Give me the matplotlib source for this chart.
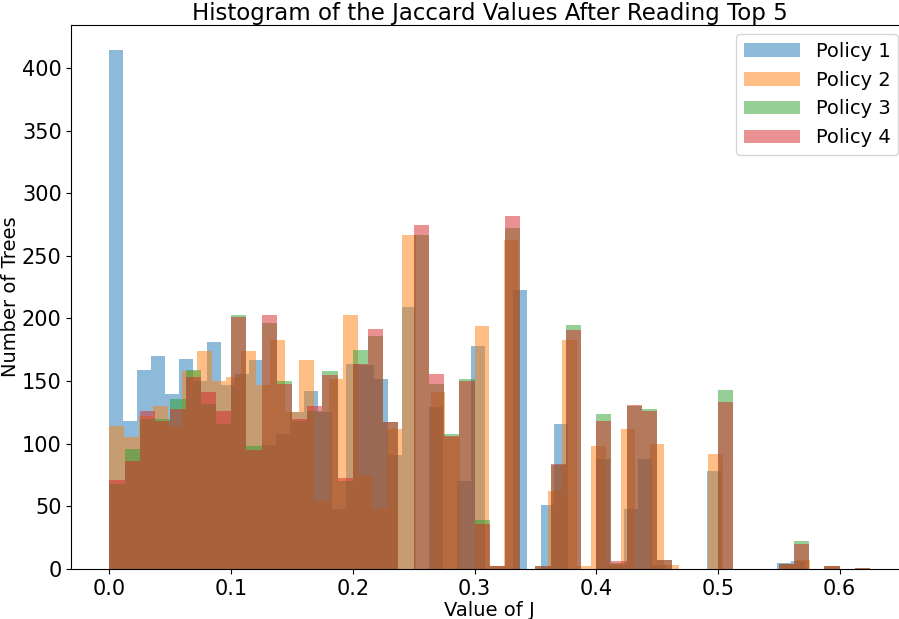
import numpy as np
import matplotlib.pyplot as plt

# each policy was binned on its own range, 50 bins from 0 to its largest J value
policies = ['Policy 1', 'Policy 2', 'Policy 3', 'Policy 4']
j_max = [4 / 7, 0.6, 0.625, 0.625]

# counts per bin
policy1 = [414, 118, 159, 170, 140, 168, 150, 181, 147, 156,
           167, 99, 108, 125, 142, 125, 48, 164, 163, 152,
           91, 209, 0, 129, 0, 70, 178, 0, 0, 223,
           0, 51, 116, 0, 0, 88, 3, 48, 88, 3,
           0, 0, 0, 78, 0, 0, 0, 0, 5, 6]
policy2 = [114, 105, 122, 130, 114, 158, 174, 150, 153, 174,
           147, 183, 125, 167, 54, 152, 203, 75, 49, 112,
           267, 0, 141, 105, 0, 194, 2, 263, 0, 0,
           62, 183, 2, 98, 4, 112, 0, 100, 3, 0,
           0, 92, 0, 0, 0, 0, 4, 7, 0, 2]
policy3 = [68, 96, 120, 120, 136, 159, 132, 116, 203, 98,
           196, 150, 118, 126, 158, 70, 175, 186, 117, 0,
           267, 148, 108, 152, 39, 2, 272, 0, 2, 83,
           195, 0, 124, 5, 130, 128, 7, 0, 0, 0,
           143, 0, 0, 0, 4, 22, 0, 2, 0, 1]
policy4 = [71, 86, 126, 118, 128, 153, 141, 126, 201, 95,
           203, 148, 120, 130, 155, 73, 164, 192, 117, 0,
           275, 156, 106, 150, 36, 2, 282, 0, 2, 84,
           191, 0, 118, 6, 131, 126, 7, 0, 0, 0,
           133, 0, 0, 0, 4, 20, 0, 2, 0, 1]

fig = plt.figure(figsize=(8.99, 6.19), dpi=100)
ax = fig.add_axes([0.0795, 0.0808, 0.9305, 0.8796])

for counts, top, name in zip([policy1, policy2, policy3, policy4], j_max, policies):
    edges = np.linspace(0, top, 51)
    centers = (edges[:-1] + edges[1:]) / 2
    ax.hist(centers, bins=edges, weights=counts, alpha=0.5, label=name)

ax.set_title('Histogram of the Jaccard Values After Reading Top 5', fontsize=16.5, pad=2)
ax.set_xlabel('Value of J', fontsize=14, labelpad=1.5)
ax.set_ylabel('Number of Trees', fontsize=14, labelpad=1.5)
ax.tick_params(labelsize=15)
ax.legend(loc='upper right', fontsize=14, handlelength=2.9)

fig.savefig('out.png', dpi=100)
